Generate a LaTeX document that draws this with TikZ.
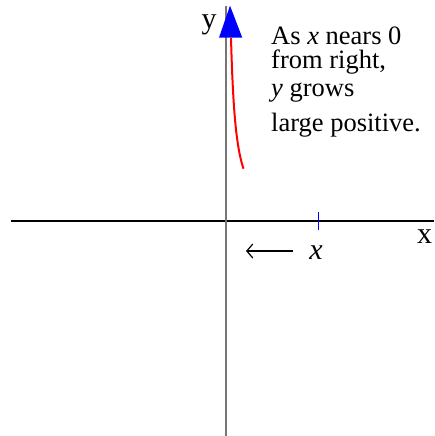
\documentclass[tikz,border=0pt]{standalone}
\usepackage{fontspec}
\setmainfont{Liberation Serif}
\usetikzlibrary{arrows.meta}
\begin{document}
\begin{tikzpicture}[x=1pt,y=-1pt,
  txt/.style={anchor=base west,inner sep=0pt,font=\fontsize{26.5}{26.5}\selectfont},
  axlbl/.style={anchor=base,inner sep=0pt,font=\fontsize{30}{30}\selectfont},
  xaxis/.style={line width=1.2pt,black},
  yaxis/.style={line width=2pt,color={rgb,255:red,118;green,118;blue,118}},
  curve/.style={line width=2pt,red},
  tick/.style={line width=1pt,blue},
  movearrow/.style={line width=1.2pt,{Straight Barb[length=6pt,width=14pt,line width=1.2pt]}-}]
\useasboundingbox (0,0) rectangle (434,436);
% axes
\coordinate (xl) at (11,221);
\coordinate (xr) at (434,221);
\coordinate (yb) at (225.7,436);
\coordinate (yt) at (225.7,5.7);
\draw[xaxis] (xl) -- (xr);
\draw[yaxis] (yb) -- (yt);
% tick
\coordinate (t1) at (318,211.5);
\coordinate (t2) at (318,230);
\draw[tick] (t1) -- (t2);
% red curve
\draw[curve] plot[domain=5:17.5,samples=60,smooth] ({226+\x},{221-915/\x});
% blue triangle
\coordinate (ta) at (219,37.7);
\coordinate (tb) at (242.3,37.7);
\coordinate (tc) at (230,5.7);
\fill[blue] (ta) -- (tb) -- (tc) -- cycle;
% axis labels
\node[axlbl] (ylab) at (209,28.5) {y};
\node[axlbl] (xlab) at (424.5,243) {x};
% moving arrow
\node[axlbl,font=\fontsize{30}{30}\selectfont\itshape] (xit) at (316,259.5) {x};
\coordinate (ae) at (246,251);
\coordinate (as) at (293,251);
\draw[movearrow] (ae) -- (as);
% text
\node[txt] (l1) at (271,45) {As \textit{x} nears 0};
\node[txt] (l2) at (271,69) {from right,};
\node[txt] (l3) at (271,96) {\textit{y} grows};
\node[txt] (l4) at (271,131) {large positive.};
\end{tikzpicture}
\end{document}
